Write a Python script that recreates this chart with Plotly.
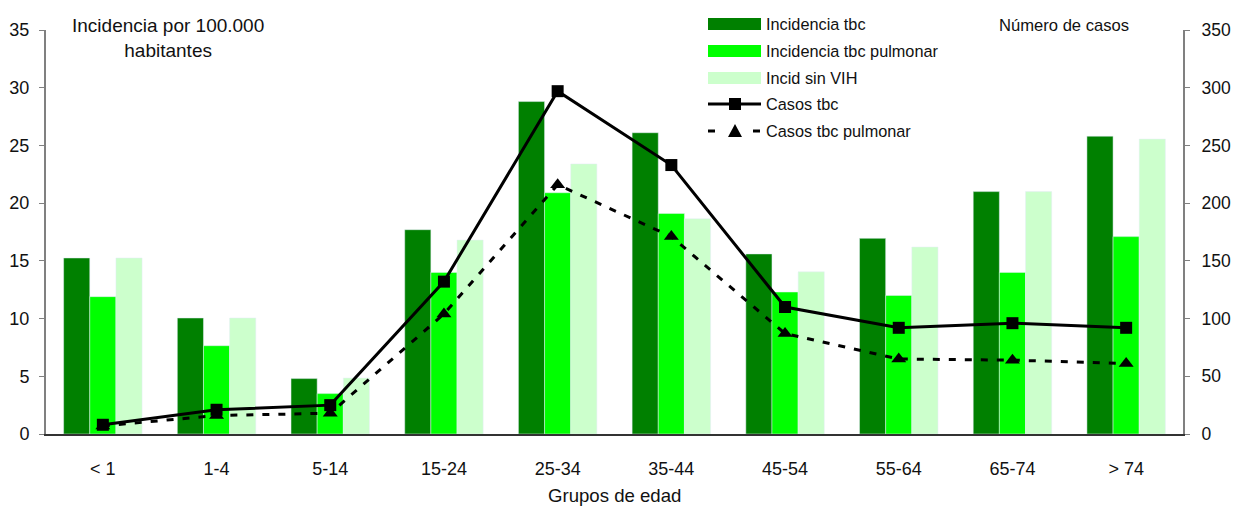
import plotly.graph_objects as go

# Age groups and series
grupos = ["< 1", "1-4", "5-14", "15-24", "25-34", "35-44", "45-54", "55-64", "65-74", "> 74"]
incidencia_tbc = [15.25, 10.05, 4.8, 17.7, 28.8, 26.1, 15.6, 16.95, 21.0, 25.8]
incidencia_pulmonar = [11.9, 7.65, 3.5, 14.0, 20.9, 19.1, 12.3, 12.0, 14.0, 17.1]
incid_sin_vih = [15.25, 10.05, 4.85, 16.8, 23.4, 18.65, 14.05, 16.2, 21.0, 25.55]
casos_tbc = [8, 21, 25, 132, 297, 233, 110, 92, 96, 92]
casos_pulmonar = [7, 16, 18, 104, 216, 171, 87, 65, 64, 61]

left_ticks = [0, 5, 10, 15, 20, 25, 30, 35]
right_ticks = [0, 50, 100, 150, 200, 250, 300, 350]

W, H = 1234, 506
ML, MR, MT, MB = 46, 51, 30, 72
PW, PH = W - ML - MR, H - MT - MB

DARK = "#008000"
BRIGHT = "#00FF00"
PALE = "#CCFFCC"
FONT = "Liberation Sans"
TXT = "#111"


def px(x):
    return (x - ML) / PW


def py(y):
    return (H - MB - y) / PH


fig = go.Figure()
fig.add_trace(go.Bar(x=grupos, y=incidencia_tbc, name="Incidencia tbc", marker_color=DARK))
fig.add_trace(go.Bar(x=grupos, y=incidencia_pulmonar, name="Incidencia tbc pulmonar", marker_color=BRIGHT))
fig.add_trace(go.Bar(x=grupos, y=incid_sin_vih, name="Incid sin VIH", marker_color=PALE))
fig.add_trace(go.Scatter(x=grupos, y=casos_pulmonar, yaxis="y2", name="Casos tbc pulmonar",
                         mode="lines+markers",
                         line=dict(color="black", width=3, dash="7px,9px"),
                         marker=dict(symbol="triangle-up", size=13, color="black")))
fig.add_trace(go.Scatter(x=grupos, y=casos_tbc, yaxis="y2", name="Casos tbc",
                         mode="lines+markers",
                         line=dict(color="black", width=3),
                         marker=dict(symbol="square", size=12, color="black")))

# Legend drawn as shapes and text
shapes = []
annotations = []
legend_rows = [
    ("Incidencia tbc", "bar", DARK, 24),
    ("Incidencia tbc pulmonar", "bar", BRIGHT, 51),
    ("Incid sin VIH", "bar", PALE, 78),
    ("Casos tbc", "solid", None, 104),
    ("Casos tbc pulmonar", "dash", None, 131),
]
x0, x1, xm = 708, 761, 735
for label, kind, color, yc in legend_rows:
    if kind == "bar":
        shapes.append(dict(type="rect", xref="paper", yref="paper",
                           x0=px(x0), x1=px(x1), y0=py(yc + 6), y1=py(yc - 6),
                           fillcolor=color, line=dict(width=0), layer="above"))
    elif kind == "solid":
        shapes.append(dict(type="line", xref="paper", yref="paper",
                           x0=px(x0), x1=px(x1), y0=py(yc), y1=py(yc),
                           line=dict(color="black", width=3), layer="above"))
        shapes.append(dict(type="rect", xref="paper", yref="paper",
                           x0=px(xm - 6), x1=px(xm + 6), y0=py(yc + 6), y1=py(yc - 6),
                           fillcolor="black", line=dict(width=0), layer="above"))
    else:
        for a, b in [(x0, x0 + 7), (x1 - 8, x1 - 1)]:
            shapes.append(dict(type="line", xref="paper", yref="paper",
                               x0=px(a), x1=px(b), y0=py(yc), y1=py(yc),
                               line=dict(color="black", width=3), layer="above"))
        path = "M {} {} L {} {} L {} {} Z".format(px(xm - 7), py(yc + 6), px(xm + 7), py(yc + 6),
                                                 px(xm), py(yc - 7))
        shapes.append(dict(type="path", xref="paper", yref="paper", path=path,
                           fillcolor="black", line=dict(width=0), layer="above"))
    annotations.append(dict(text=label, xref="paper", yref="paper", x=px(764), y=py(yc),
                            xanchor="left", yanchor="middle", showarrow=False,
                            font=dict(family=FONT, size=16.3, color=TXT)))

annotations += [
    dict(text="Incidencia por 100.000<br>habitantes", xref="paper", yref="paper",
         x=px(168), y=py(13), xanchor="center", yanchor="top", showarrow=False,
         font=dict(family=FONT, size=19, color=TXT)),
    dict(text="Número de casos", xref="paper", yref="paper",
         x=px(1131), y=py(26), xanchor="right", yanchor="middle", showarrow=False,
         font=dict(family=FONT, size=16.6, color=TXT)),
    dict(text="Grupos de edad", xref="paper", yref="paper",
         x=0.5, y=py(496), xanchor="center", yanchor="middle", showarrow=False,
         font=dict(family=FONT, size=18.6, color=TXT)),
]

fig.update_layout(
    width=W, height=H,
    margin=dict(l=ML, r=MR, t=MT, b=MB, autoexpand=False),
    paper_bgcolor="white", plot_bgcolor="white",
    barmode="group", bargap=0.31, bargroupgap=0,
    showlegend=False,
    font=dict(family=FONT, size=18, color=TXT),
    xaxis=dict(range=[-0.5, len(grupos) - 0.5], showline=True, linecolor="#333", linewidth=1.5,
               ticks="", automargin=False, showgrid=False, ticklabelstandoff=18,
               tickfont=dict(size=18)),
    yaxis=dict(range=[0, 35], tickvals=left_ticks, showline=True, linecolor="#808080",
               linewidth=2, ticks="outside", ticklen=5, tickcolor="#808080", automargin=False,
               showgrid=False, zeroline=False, tickfont=dict(size=18), ticklabelstandoff=6),
    yaxis2=dict(range=[0, 350], tickvals=right_ticks, overlaying="y", side="right",
                showline=True, linecolor="#808080", linewidth=2, ticks="outside", automargin=False,
                ticklen=5, tickcolor="#808080", showgrid=False, zeroline=False,
                tickfont=dict(size=17.5), ticklabelstandoff=8),
    shapes=shapes,
    annotations=annotations,
)

fig.write_html("out.html")
